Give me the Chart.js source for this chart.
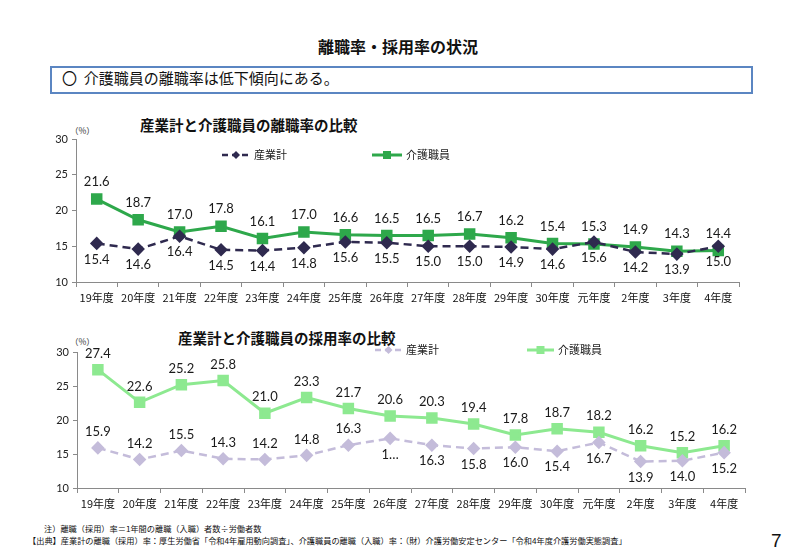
<!DOCTYPE html>
<html><head><meta charset="utf-8">
<script src="https://cdn.jsdelivr.net/npm/chart.js@4"></script>
<style>
html,body{margin:0;padding:0;background:#fff;width:800px;height:560px;overflow:hidden;}
body{position:relative;font-family:"Noto Sans CJK JP",sans-serif;color:#111;}
.abs{position:absolute;white-space:nowrap;}
#pageTitle{left:0;width:796px;top:34px;text-align:center;font-size:16px;font-weight:bold;}
#box{left:50px;top:66px;width:699px;height:24px;border:2px solid #5B86C2;box-sizing:content-box;}
#boxText{left:62px;top:68px;font-size:15px;line-height:20px;}
.ctitle{font-size:14.5px;font-weight:bold;}
.pct{font-size:8.5px;color:#333;}
.note{font-size:8.2px;color:#111;}
canvas{position:absolute;left:0;}
</style></head>
<body>
<div class="abs" id="pageTitle">離職率・採用率の状況</div>
<div class="abs" id="box"></div>
<div class="abs" id="boxText">〇&nbsp;&nbsp;介護職員の離職率は低下傾向にある。</div>
<div class="abs ctitle" style="left:140px;top:114px;">産業計と介護職員の離職率の比較</div>
<div class="abs pct" style="left:70px;top:124px;">（%）</div>
<div class="abs ctitle" style="left:178px;top:327px;">産業計と介護職員の採用率の比較</div>
<div class="abs pct" style="left:70px;top:335px;">（%）</div>
<canvas id="c1" width="800" height="200" style="top:110px;"></canvas>
<canvas id="c2" width="800" height="200" style="top:320px;"></canvas>
<div class="abs note" style="left:44px;top:522px;">注）離職（採用）率＝1年間の離職（入職）者数÷労働者数</div>
<div class="abs note" style="left:28px;top:534px;">【出典】産業計の離職（採用）率：厚生労働省「令和4年雇用動向調査」、介護職員の離職（入職）率：（財）介護労働安定センター「令和4年度介護労働実態調査」</div>
<div class="abs" style="left:771px;top:530px;font-size:19px;font-family:'Liberation Sans Narrow','Liberation Sans',sans-serif;">7</div>
<script>
const categories = ['19年度','20年度','21年度','22年度','23年度','24年度','25年度','26年度','27年度','28年度','29年度','30年度','元年度','2年度','3年度','4年度'];
const yTicks = [10, 15, 20, 25, 30];
const sepIndustry = [15.4,14.6,16.4,14.5,14.4,14.8,15.6,15.5,15.0,15.0,14.9,14.6,15.6,14.2,13.9,15.0];
const sepCare     = [21.6,18.7,17.0,17.8,16.1,17.0,16.6,16.5,16.5,16.7,16.2,15.4,15.3,14.9,14.3,14.4];
const hireIndustry = [15.9,14.2,15.5,14.3,14.2,14.8,16.3,17.3,16.3,15.8,16.0,15.4,16.7,13.9,14.0,15.2];
const hireCare     = [27.4,22.6,25.2,25.8,21.0,23.3,21.7,20.6,20.3,19.4,17.8,18.7,18.2,16.2,15.2,16.2];
const seriesNames = ['産業計','介護職員'];

const LABEL_FONT = '13px Lato, "Liberation Sans", sans-serif';

const valueLabels = {
  id: 'valueLabels',
  afterDatasetsDraw(chart, args, opts) {
    const ctx = chart.ctx;
    ctx.save();
    ctx.font = LABEL_FONT;
    ctx.fillStyle = '#1a1a1a';
    ctx.textAlign = 'center';
    ctx.textBaseline = 'middle';
    chart.data.datasets.forEach((ds, di) => {
      const meta = chart.getDatasetMeta(di);
      const cfg = opts.sets[di];
      meta.data.forEach((pt, i) => {
        const above = cfg.above(i);
        const y = pt.y + (above ? -cfg.up : cfg.down);
        const txt = cfg.text ? cfg.text(ds.data[i], i) : ds.data[i].toFixed(1);
        ctx.fillText(txt, pt.x, y);
      });
    });
    ctx.restore();
  }
};

const customLegend = {
  id: 'customLegend',
  afterDraw(chart, args, opts) {
    const ctx = chart.ctx;
    ctx.save();
    opts.items.forEach(it => {
      ctx.strokeStyle = it.color;
      ctx.lineWidth = it.lw;
      ctx.setLineDash(it.dash || []);
      ctx.beginPath();
      ctx.moveTo(it.x, it.y);
      ctx.lineTo(it.x + it.len, it.y);
      ctx.stroke();
      ctx.setLineDash([]);
      ctx.fillStyle = it.color;
      const cx = it.x + it.len / 2;
      if (it.marker === 'rect') {
        ctx.fillRect(cx - 4, it.y - 4, 8, 8);
      } else {
        ctx.beginPath();
        ctx.moveTo(cx, it.y - 4); ctx.lineTo(cx + 4, it.y); ctx.lineTo(cx, it.y + 4); ctx.lineTo(cx - 4, it.y);
        ctx.closePath(); ctx.fill();
      }
      ctx.fillStyle = '#222';
      ctx.font = '11px "Noto Sans CJK JP", sans-serif';
      ctx.textBaseline = 'middle';
      ctx.fillText(it.text, it.x + it.len + 4, it.y);
    });
    ctx.restore();
  }
};

function makeChart(id, indData, careData, colors, pad, labelSets, legendItems) {
  return new Chart(document.getElementById(id), {
    type: 'line',
    data: {
      labels: categories,
      datasets: [
        { label: seriesNames[0], data: indData, borderColor: colors.ind, backgroundColor: colors.ind,
          borderWidth: 2.5, borderDash: [8, 5], pointStyle: 'rectRot', pointRadius: 5, pointHoverRadius: 5,
          tension: 0, clip: false },
        { label: seriesNames[1], data: careData, borderColor: colors.care, backgroundColor: colors.care,
          borderWidth: 3, pointStyle: 'rect', pointRadius: 6, pointHoverRadius: 6, tension: 0, clip: false }
      ]
    },
    options: {
      responsive: false, animation: false, devicePixelRatio: 1,
      layout: { padding: pad },
      plugins: { legend: { display: false }, tooltip: { enabled: false }, title: { display: false },
        valueLabels: { sets: labelSets }, customLegend: { items: legendItems } },
      scales: {
        x: {
          offset: true,
          grid: { offset: true, drawOnChartArea: false, drawTicks: true, tickLength: 5, color: '#8a8a8a' },
          border: { display: true, color: '#8a8a8a', width: 1 },
          ticks: { color: '#111', font: { size: 11, family: '"Noto Sans CJK JP", sans-serif' }, padding: 4, maxRotation: 0, autoSkip: false },
          afterFit: s => { s.height = 25; }
        },
        y: {
          min: yTicks[0], max: yTicks[yTicks.length - 1],
          afterBuildTicks: s => { s.ticks = yTicks.map(v => ({ value: v })); },
          grid: { drawOnChartArea: false, drawTicks: true, tickLength: 4, color: '#8a8a8a' },
          border: { display: true, color: '#8a8a8a', width: 1 },
          ticks: { color: '#222', font: { size: 11, family: 'Lato, "Liberation Sans", sans-serif' }, padding: 4 },
          afterFit: s => { s.width = 40; }
        }
      }
    },
    plugins: [valueLabels, customLegend]
  });
}

// chart 1: separation rate
makeChart('c1', sepIndustry, sepCare, { ind: '#2F2A4F', care: '#2EA84B' },
  { left: 36, right: 61, top: 29, bottom: 3 },
  [ { above: () => false, up: 16, down: 16 },
    { above: () => true, up: 17, down: 16 } ],
  [ { x: 222, y: 45, len: 28, color: '#2F2A4F', lw: 2.5, dash: [6, 4], marker: 'diamond', text: seriesNames[0] },
    { x: 372, y: 45, len: 30, color: '#2EA84B', lw: 3, marker: 'rect', text: seriesNames[1] } ]);

// chart 2: hiring rate
const HIRE_IND_ABOVE_UNTIL = 7;
makeChart('c2', hireIndustry, hireCare, { ind: '#C4BCDA', care: '#8DE990' },
  { left: 37, right: 55, top: 32, bottom: 7 },
  [ { above: i => i < HIRE_IND_ABOVE_UNTIL, up: 16, down: 16, text: (v, i) => i === HIRE_IND_ABOVE_UNTIL ? '1…' : v.toFixed(1) },
    { above: () => true, up: 16, down: 16 } ],
  [ { x: 375, y: 30, len: 27, color: '#C4BCDA', lw: 2.5, dash: [6, 4], marker: 'diamond', text: seriesNames[0] },
    { x: 527, y: 30, len: 27, color: '#8DE990', lw: 3, marker: 'rect', text: seriesNames[1] } ]);
</script>
</body></html>
